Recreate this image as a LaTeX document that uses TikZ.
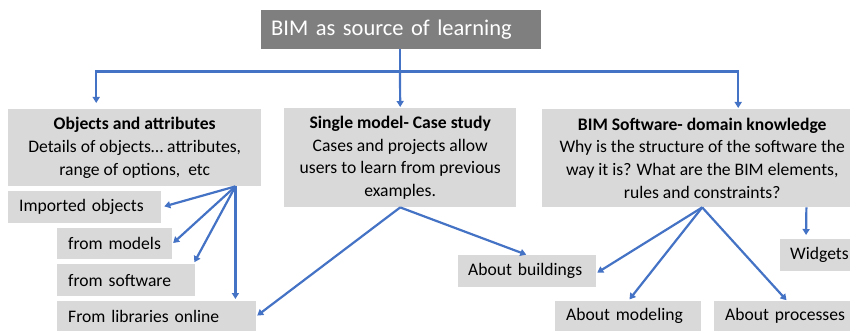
\documentclass[tikz,border=0pt]{standalone}
\usepackage{fontspec}
\setmainfont{Carlito}
\usetikzlibrary{arrows.meta}
\definecolor{boxgray}{HTML}{D9D9D9}
\definecolor{titlegray}{HTML}{7F7F7F}
\definecolor{lineblue}{HTML}{4472C4}
\newcommand\bodyfont{\fontsize{17.6}{22.7}\selectfont}
\newcommand\titlefont{\fontsize{22.5}{28}\selectfont}
\tikzset{
  mainbox/.style={fill=boxgray, anchor=north west, inner sep=0pt, align=center, font=\bodyfont},
  leaf/.style={fill=boxgray, anchor=north west, inner xsep=11pt, inner ysep=0pt, align=left, font=\bodyfont},
  titlebox/.style={fill=titlegray, text=white, anchor=north west, inner xsep=10pt, inner ysep=0pt, align=left, font=\titlefont},
  arr/.style={draw=lineblue, line width=2.2pt, -{Triangle[length=6pt,width=7pt]}},
  link/.style={draw=lineblue, line width=2.2pt},
}
\begin{document}
\begin{tikzpicture}[x=1pt,y=-1pt]
\useasboundingbox (0,0) rectangle (850,331);
\clip (0,0) rectangle (850,331);
% title
\node[titlebox, text width=260pt, minimum height=39pt] (title) at (261,10) {BIM as source of learning};
% main boxes
\node[mainbox, minimum width=253pt, minimum height=77pt] (left) at (8,109)
  {\textbf{Objects and attributes}\\Details of objects\ldots\ attributes,\\range of options,\ \ etc};
\node[mainbox, minimum width=232pt, minimum height=99pt] (mid) at (284,108)
  {\textbf{Single model- Case study}\\Cases and projects allow\\users to learn from previous\\examples.};
\node[mainbox, minimum width=320pt, minimum height=98pt] (right) at (542,109)
  {\textbf{BIM Software- domain knowledge}\\Why is the structure of the software the\\way it is? What are the BIM elements,\\rules and constraints?};
% leaves
\node[leaf, text width=131pt, minimum height=32pt] (imp) at (8,191) {Imported objects};
\node[leaf, text width=93pt, minimum height=31pt] (mod) at (57,228) {from models};
\node[leaf, text width=116pt, minimum height=32pt] (sw) at (57,264) {from software};
\node[leaf, text width=177pt, minimum height=30pt] (lib) at (57,301) {From libraries online};
\node[leaf, inner xsep=10pt, text width=118pt, minimum height=32pt] (bld) at (458,255) {About buildings};
\node[leaf, text width=124pt, minimum height=30pt] (modl) at (555,301) {About modeling};
\node[leaf, text width=124pt, minimum height=30pt] (proc) at (714,301) {About processes};
\node[leaf, inner xsep=10pt, text width=70pt, minimum height=32pt] (wid) at (780,239) {Widgets};
% top connectors
\coordinate (j) at (400,71.5);
\draw[link] (j |- title.south) -- (j);
\draw[arr, shorten >=1pt] (j) -- (mid.north);
\draw[arr, shorten >=6pt] (j) -| ([xshift=-38.5pt]left.north);
\draw[arr, shorten >=1pt] (j) -| ([xshift=36pt]right.north);
% left fan
\coordinate (lf) at ([xshift=-26pt]left.south east);
\draw[arr, shorten >=3pt] (lf) -- (imp.east);
\draw[arr, shorten >=1pt] (lf) -- (mod.east);
\draw[arr, shorten >=2pt] (lf) -- ([xshift=-2pt]sw.north east);
\draw[arr, shorten >=2pt] (lf) -- ([xshift=-21pt]lib.north east);
% middle fan
\draw[arr, shorten >=1pt] (mid.south) -- (lib.east);
\draw[arr, shorten >=1pt] (mid.south) -- (bld.north);
% right fan
\coordinate (rf) at (right.south);
\draw[arr, shorten >=1pt] (rf) -- ([yshift=-2pt]bld.east);
\draw[arr, shorten >=2pt] (rf) -- (modl.north);
\draw[arr, shorten >=1pt] (rf) -- (proc.north);
\draw[arr, shorten >=4pt] ([xshift=-56pt]right.south east) -- ([xshift=26pt]wid.north west);
\end{tikzpicture}
\end{document}
